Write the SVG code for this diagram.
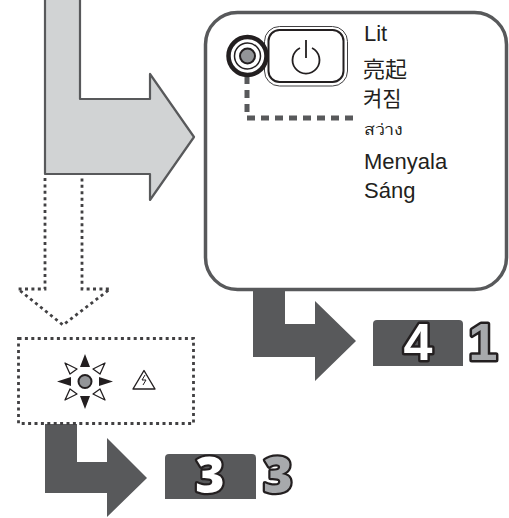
<svg xmlns="http://www.w3.org/2000/svg" width="509" height="518" viewBox="0 0 509 518">
<style>
.t{font-family:"Liberation Sans","Noto Sans CJK KR",sans-serif;font-size:22px;fill:#231f20}
.dark{fill:#58595b}
.dot{fill:none;stroke:#414042;stroke-width:2.800;stroke-dasharray:3 3.400}
.num{font-size:52px;text-anchor:middle;stroke:#231f20;stroke-width:5;paint-order:stroke;stroke-linejoin:round}
.four{font-family:"Liberation Sans",sans-serif;font-weight:700}
.three{font-family:"Open Sans","Liberation Sans",sans-serif;font-weight:800;font-size:50px;stroke-width:4.500}
</style>
<g id="panel">
<rect x="205.500" y="12.500" width="301" height="277" rx="32" fill="#fff" stroke="#58595b" stroke-width="3.500"/>
</g>
<g id="connectors">
<path id="big-arrow" d="M45 -3V174H150V200L194 137L150 74V99H80V-3" fill="#d1d3d4" stroke="#58595b" stroke-width="2.200" stroke-linejoin="round"/>
<path id="dotted-arrow" class="dot" d="M45 178V289H18L63 325L110 289H82V178"/>
<path id="arrow-4" class="dark" d="M253 289H285V324H315V301L356 341L315 381V357H253Z"/>
<path id="arrow-3" class="dark" d="M45 424H77V462H107V438L147 478L107 517V493H45Z"/>
<path id="led-line" d="M247 76V118H354" fill="none" stroke="#58595b" stroke-width="5" stroke-dasharray="8 6"/>
</g>
<g id="power-button">
<rect x="264.500" y="26.500" width="83" height="59.500" rx="15" fill="#fff" stroke="#414042" stroke-width="1"/>
<rect x="268.500" y="30" width="75" height="52" rx="11" fill="#fff" stroke="#231f20" stroke-width="2"/>
<path d="M300 48A13.500 13.500 0 1 0 312 48M306 40V58" fill="none" stroke="#231f20" stroke-width="1.800"/>
</g>
<g id="led">
<circle cx="247.500" cy="56" r="19" fill="#fff" stroke="#231f20" stroke-width="4.500"/>
<circle cx="247.500" cy="56" r="13" fill="#fff" stroke="#231f20" stroke-width="1.500"/>
<circle cx="247.500" cy="56" r="7.500" fill="#939598" stroke="#231f20" stroke-width="2"/>
</g>
<g id="labels">
<text class="t" x="364" y="41">Lit</text>
<text class="t" x="363" y="77">亮起</text>
<text class="t" x="363" y="106" style="font-size:21px">켜짐</text>
<text class="t" x="364" y="135" style="font-size:15px;font-family:'Noto Sans','Liberation Sans',sans-serif" textLength="38" lengthAdjust="spacingAndGlyphs">สว่าง</text>
<text class="t" x="364" y="169">Menyala</text>
<text class="t" x="364" y="198">Sáng</text>
</g>
<g id="warning-box">
<rect class="dot" x="18.500" y="338.500" width="175" height="85"/>
<circle cx="85" cy="381.500" r="6.500" fill="#939598" stroke="#231f20" stroke-width="2"/>
<path d="M85 354L90 367H80ZM85 409L90 396H80ZM57 381.500L71 377V386ZM113 381.500L99 377V386Z" fill="#231f20"/>
<path d="M65 363L77 369L70 374ZM105 363L93 369L100 374ZM65 400L77 394L70 389ZM105 400L93 394L100 389Z" fill="#fff" stroke="#231f20" stroke-width="1.300" stroke-linejoin="round"/>
<path d="M144 370.500L155 389H133Z" fill="#fff" stroke="#231f20" stroke-width="1.400" stroke-linejoin="round"/>
<path d="M145 375L142 380H146L143 385" fill="none" stroke="#231f20" stroke-width="1"/>
</g>
<g id="badge-4">
<path class="dark" d="M373 366V324Q373 320 377 320H459Q463 320 463 324V366Z"/>
<text class="num four" x="418" y="360" fill="#fff">4</text>
<text class="num four" x="483" y="360" fill="#a7a9ac">1</text>
</g>
<g id="badge-3">
<path class="dark" d="M165 499V458Q165 454 169 454H252Q256 454 256 458V499Z"/>
<text class="num three" x="210" y="493" fill="#fff">3</text>
<text class="num three" x="278" y="493" fill="#a7a9ac">3</text>
</g>
</svg>
